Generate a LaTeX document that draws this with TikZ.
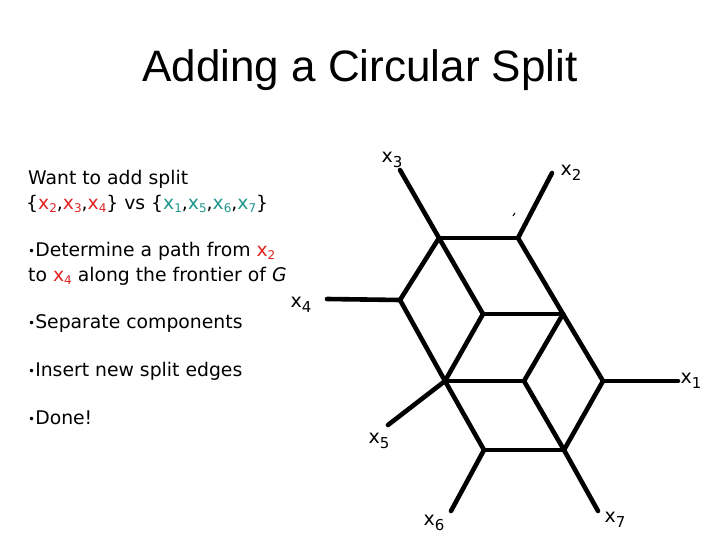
\documentclass[tikz,border=0pt]{standalone}
\usepackage{fontspec}
\setmainfont{Liberation Sans}
\newfontfamily\comicf{DejaVu Sans}
\definecolor{xred}{RGB}{225,35,35}
\definecolor{xteal}{RGB}{30,150,140}
\newcommand\lx[1]{x\raisebox{-5pt}{\fontsize{15}{15}\selectfont #1}}
\newcommand\tx[2]{\textcolor{#1}{x\raisebox{-3pt}{\fontsize{12}{12}\selectfont #2}}}
\newcommand\bul{\raisebox{1pt}{\fontsize{12}{12}\selectfont •}}
\begin{document}
\begin{tikzpicture}[x=1pt,y=-1pt,
  edge/.style={line width=4.6pt, line cap=round},
  lbl/.style={inner sep=0pt, font=\comicf\fontsize{19}{19}\selectfont},
  txt/.style={anchor=base west, inner sep=0pt, font=\comicf\fontsize{18.8}{18.8}\selectfont}]
\useasboundingbox (0,0) rectangle (720,540);
% title
\node[anchor=base, inner sep=0pt, font=\fontsize{44}{44}\selectfont] (title) at (360,82) {Adding a Circular Split};
% left text
\node[txt] (t1) at (28,185) {Want to add split};
\node[txt] (t2) at (26,210) {\{\tx{xred}{2},\tx{xred}{3},\tx{xred}{4}\} vs \{\tx{xteal}{1},\tx{xteal}{5},\tx{xteal}{6},\tx{xteal}{7}\}};
\node[txt] (t3) at (28,256) {\bul Determine a path from \tx{xred}{2}};
\node[txt] (t4) at (28,281) {to \tx{xred}{4} along the frontier of \textit{G}};
\node[txt] (t5) at (28,328) {\bul Separate components};
\node[txt] (t6) at (28,376) {\bul Insert new split edges};
\node[txt] (t7) at (28,424) {\bul Done!};
% vertices
\coordinate (A) at (439,238);
\coordinate (B) at (518,238);
\coordinate (C) at (400,300);
\coordinate (D) at (483,314);
\coordinate (E) at (563,314);
\coordinate (F) at (445,381);
\coordinate (G) at (524,381);
\coordinate (H) at (603,381);
\coordinate (I) at (484,450);
\coordinate (J) at (564,450);
% leaf ends
\coordinate (e3) at (400,170);
\coordinate (e2) at (552,173);
\coordinate (e4) at (327,299);
\coordinate (e1) at (678,381);
\coordinate (e5) at (388,425);
\coordinate (e6) at (451,511);
\coordinate (e7) at (598,511);
% labels
\node[lbl] (x3) at (392,160) {\lx{3}};
\node[lbl] (x2) at (571,173) {\lx{2}};
\node[lbl] (x4) at (301,305) {\lx{4}};
\node[lbl] (x1) at (691,381) {\lx{1}};
\node[lbl] (x5) at (379,441) {\lx{5}};
\node[lbl] (x6) at (434,523) {\lx{6}};
\node[lbl] (x7) at (615,520) {\lx{7}};
% edges
\draw[edge] (e3) -- (A);
\draw[edge] (A) -- (B);
\draw[edge] (B) -- (e2);
\draw[edge] (A) -- (C);
\draw[edge] (A) -- (D);
\draw[edge] (B) -- (E);
\draw[edge] (e4) -- (C);
\draw[edge] (C) -- (F);
\draw[edge] (D) -- (E);
\draw[edge] (D) -- (F);
\draw[edge] (E) -- (G);
\draw[edge] (E) -- (H);
\draw[edge] (F) -- (G);
\draw[edge] (F) -- (e5);
\draw[edge] (F) -- (I);
\draw[edge] (G) -- (J);
\draw[edge] (H) -- (J);
\draw[edge] (H) -- (e1);
\draw[edge] (I) -- (J);
\draw[edge] (I) -- (e6);
\draw[edge] (J) -- (e7);
% stray tick
\coordinate (k1) at (513,216);
\coordinate (k2) at (515,213);
\draw[line width=1pt] (k1) -- (k2);
\end{tikzpicture}
\end{document}
